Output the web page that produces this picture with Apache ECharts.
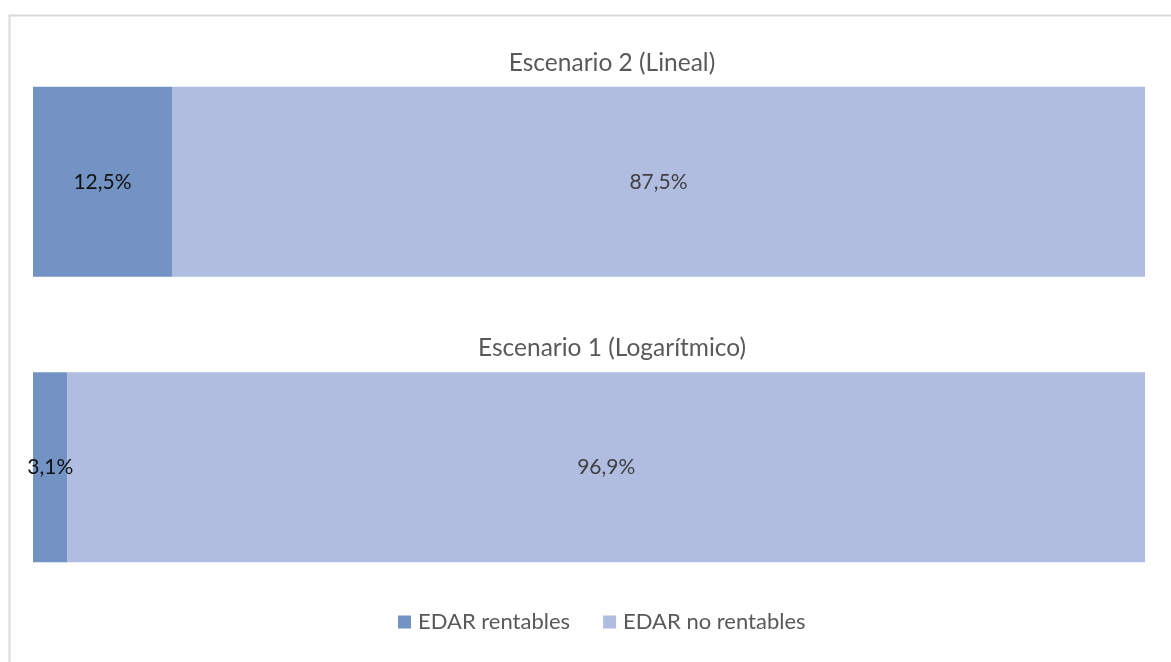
<!DOCTYPE html>
<html>
<head>
<meta charset="utf-8">
<script src="https://cdn.jsdelivr.net/npm/echarts@6/dist/echarts.min.js"></script>
<style>
html,body{margin:0;padding:0;background:#fff;}
#chart{width:1171px;height:662px;}
</style>
</head>
<body>
<div id="chart"></div>
<script>
const categories = ['Escenario 2 (Lineal)', 'Escenario 1 (Logarítmico)'];
const seriesNames = ['EDAR rentables', 'EDAR no rentables'];
const rentables = [12.5, 3.1];
const noRentables = [87.5, 96.9];

const FONT = 'Lato';
const fmt = p => p.value.toFixed(1).replace('.', ',') + '%';

const chart = echarts.init(document.getElementById('chart'));
chart.setOption({
  animation: false,
  textStyle: { fontFamily: FONT },
  grid: { left: 33, right: 26, top: 39, bottom: 52, containLabel: false },
  xAxis: { type: 'value', min: 0, max: 100, show: false },
  yAxis: {
    type: 'category', data: categories, inverse: true,
    axisLine: { show: false }, axisTick: { show: false }, axisLabel: { show: false }
  },
  legend: {
    bottom: 29, left: 398, padding: 0, itemWidth: 13, itemHeight: 13, itemGap: 33,
    icon: 'rect',
    textStyle: { color: '#595959', fontSize: 22, fontFamily: FONT, padding: [0, 0, 0, 2] },
    data: seriesNames
  },
  series: [
    {
      name: seriesNames[0], type: 'bar', stack: 'a', barWidth: 190, data: rentables,
      itemStyle: { color: '#7393c4' },
      label: { show: true, position: 'inside', formatter: fmt, color: '#111', fontSize: 21, fontFamily: FONT }
    },
    {
      name: seriesNames[1], type: 'bar', stack: 'a', barWidth: 190, data: noRentables,
      itemStyle: { color: '#b0bde0' },
      label: { show: true, position: 'inside', formatter: fmt, color: '#404040', fontSize: 21, fontFamily: FONT }
    }
  ]
});

// Category titles placed above each bar, using the axis scale for vertical position
const graphics = [{
  type: 'rect', left: 7, top: 13, silent: true,
  shape: { width: 1200, height: 700 },
  style: { fill: 'none', stroke: '#d9d9d9', lineWidth: 2 }
}];
categories.forEach(c => {
  const y = chart.convertToPixel({ yAxisIndex: 0 }, c);
  graphics.push({
    type: 'text', silent: true,
    x: 612, y: y - 119,
    style: { text: c, fill: '#595959', font: '24.5px ' + FONT, textAlign: 'center', textVerticalAlign: 'middle' }
  });
});
chart.setOption({ graphic: graphics });
</script>
</body>
</html>
